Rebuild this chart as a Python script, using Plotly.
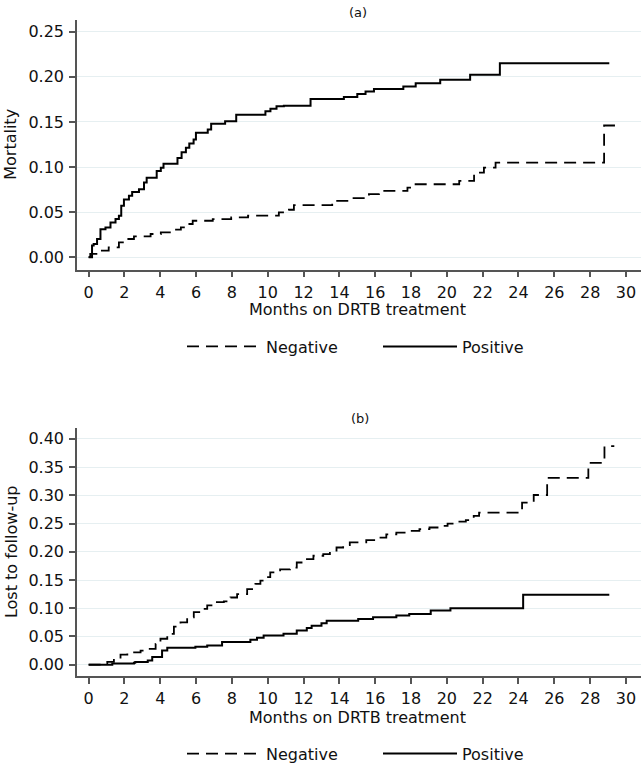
import plotly.graph_objects as go

# x axis ticks (months)
months = list(range(0, 31, 2))
mort_ticks = [0.00, 0.05, 0.10, 0.15, 0.20, 0.25]
ltfu_ticks = [0.00, 0.05, 0.10, 0.15, 0.20, 0.25, 0.30, 0.35, 0.40]

# (a) mortality, step curves: jump times and values
mort_neg_t = [0, 0.09, 0.56, 1.12, 1.69, 2.15, 2.53, 3.46, 4.03, 4.59, 5.15, 5.52, 5.81,
              6.93, 7.96, 8.9, 10.62, 11.18, 11.46, 13.6, 14.63, 15.65, 16.21, 17.8,
              18.17, 20.69, 21.52, 22.07, 22.72, 28.78, 29.4]
mort_neg_v = [0, 0.0037, 0.0074, 0.011, 0.0165, 0.0202, 0.0232, 0.0257, 0.0276, 0.0305,
              0.0331, 0.0368, 0.0404, 0.0423, 0.0441, 0.046, 0.0496, 0.0526, 0.0577, 0.0625,
              0.0654, 0.0699, 0.0735, 0.0772, 0.0809, 0.0846, 0.0938, 0.0993, 0.1048, 0.146,
              0.146]
mort_pos_t = [0, 0.19, 0.28, 0.47, 0.66, 0.94, 1.22, 1.5, 1.69, 1.82, 1.97, 2.25, 2.43,
              2.81, 3.09, 3.24, 3.8, 4.03, 4.18, 4.96, 5.19, 5.43, 5.62, 5.86, 5.99, 6.65,
              6.84, 7.62, 8.24, 9.87, 10.15, 10.49, 10.9, 12.39, 14.25, 15.0, 15.46, 15.93,
              17.57, 18.26, 19.63, 21.3, 22.96, 29.07]
mort_pos_v = [0, 0.0129, 0.0147, 0.0202, 0.031, 0.033, 0.0386, 0.0423, 0.046, 0.057, 0.064,
              0.068, 0.0724, 0.0754, 0.0827, 0.0882, 0.0956, 0.0993, 0.1037, 0.11, 0.1165,
              0.1213, 0.126, 0.1305, 0.1379, 0.1415, 0.148, 0.1507, 0.158, 0.1618, 0.1647,
              0.1673, 0.168, 0.1754, 0.1776, 0.1809, 0.1838, 0.1864, 0.1893, 0.193, 0.1967,
              0.2022, 0.2151, 0.2151]

# (b) lost to follow-up
ltfu_neg_t = [0, 0.67, 1.04, 1.41, 1.78, 2.16, 2.9, 3.36, 3.74, 4.01, 4.39, 4.76, 5.13,
              5.5, 5.87, 6.25, 6.62, 7.08, 7.55, 7.92, 8.29, 8.85, 9.31, 9.59, 9.77, 10.14,
              10.69, 11.25, 11.62, 12.08, 12.55, 13.1, 13.47, 13.84, 14.21, 14.58, 15.5,
              16.06, 16.62, 17.18, 17.9, 18.47, 19.03, 19.58, 20.04, 20.6, 21.06, 21.5, 21.8,
              24.2, 24.85, 25.6, 27.9, 28.8, 29.35]
ltfu_neg_v = [0, 0.002, 0.005, 0.0106, 0.018, 0.022, 0.025, 0.028, 0.037, 0.046, 0.0547,
              0.0676, 0.075, 0.084, 0.093, 0.099, 0.105, 0.111, 0.112, 0.119, 0.125, 0.134,
              0.143, 0.149, 0.155, 0.1635, 0.169, 0.172, 0.181, 0.187, 0.193, 0.196, 0.202,
              0.2076, 0.212, 0.2165, 0.2206, 0.225, 0.231, 0.234, 0.237, 0.24, 0.243, 0.246,
              0.25, 0.2535, 0.256, 0.2635, 0.2694, 0.287, 0.3006, 0.331, 0.3576, 0.387, 0.387]
ltfu_pos_t = [0, 1.32, 2.53, 2.6, 3.3, 3.55, 4.1, 4.39, 5.96, 6.62, 7.45, 9.03, 9.4, 9.77,
              10.88, 11.62, 12.18, 12.45, 13.0, 13.29, 15.05, 15.88, 17.18, 17.9, 19.1,
              20.2, 24.26, 29.07]
ltfu_pos_v = [0, 0.002, 0.0035, 0.0047, 0.0076, 0.0135, 0.025, 0.03, 0.032, 0.034, 0.04,
              0.044, 0.0476, 0.0518, 0.0547, 0.0606, 0.065, 0.069, 0.0735, 0.078, 0.081,
              0.084, 0.087, 0.09, 0.096, 0.1, 0.124, 0.124]

FONT = "DejaVu Sans, Arial, sans-serif"
W, H = 641, 771
ML, MR, MT, MB = 77, 0, 20, 92
PH = H - MT - MB


def py(px):
    # pixel row -> paper fraction
    return (H - MB - px) / PH


def px_x(px):
    return (px - ML) / (W - ML - MR)


fig = go.Figure()
neg_line = dict(color="black", width=1.8, dash="12px,7px", shape="hv")
pos_line = dict(color="black", width=2, shape="hv")

fig.add_trace(go.Scatter(x=mort_neg_t, y=mort_neg_v, mode="lines", name="Negative",
                         line=neg_line, xaxis="x", yaxis="y", legend="legend"))
fig.add_trace(go.Scatter(x=mort_pos_t, y=mort_pos_v, mode="lines", name="Positive",
                         line=pos_line, xaxis="x", yaxis="y", legend="legend"))
fig.add_trace(go.Scatter(x=ltfu_neg_t, y=ltfu_neg_v, mode="lines", name="Negative",
                         line=neg_line, xaxis="x2", yaxis="y2", legend="legend2"))
fig.add_trace(go.Scatter(x=ltfu_pos_t, y=ltfu_pos_v, mode="lines", name="Positive",
                         line=pos_line, xaxis="x2", yaxis="y2", legend="legend2"))

axis_common = dict(showline=True, linecolor="#555555", linewidth=1.5, ticks="outside",
                   ticklen=6, tickwidth=1.5, tickcolor="#555555", zeroline=False,
                   tickfont=dict(family=FONT, size=16, color="#111111"))
xcommon = dict(axis_common, range=[-0.65, 30.84], tickvals=months, showgrid=False,
               ticklabelstandoff=1)
ycommon = dict(axis_common, showgrid=True, gridcolor="#e6eff1", gridwidth=1.2,
               tickformat=".2f", ticklabelstandoff=2)

top_a, bot_a = 20, 270.7
top_b, bot_b = 430, 679

legend_style = dict(orientation="h", x=px_x(182), xanchor="left", yanchor="middle",
                    font=dict(family=FONT, size=16, color="#111111"), itemwidth=74,
                    entrywidth=107, entrywidthmode="pixels", bgcolor="rgba(0,0,0,0)")

fig.update_layout(
    width=W, height=H,
    margin=dict(l=ML, r=MR, t=MT, b=MB),
    paper_bgcolor="white", plot_bgcolor="white",
    font=dict(family=FONT, size=16, color="#111111"),
    xaxis=dict(xcommon, domain=[0, 1], anchor="y"),
    yaxis=dict(ycommon, domain=[py(bot_a), py(top_a)], range=[-0.0137, 0.263],
               tickvals=mort_ticks, anchor="x"),
    xaxis2=dict(xcommon, domain=[0, 1], anchor="y2"),
    yaxis2=dict(ycommon, domain=[py(bot_b), py(top_b)], range=[-0.02, 0.419],
                tickvals=ltfu_ticks, anchor="x2"),
    legend=dict(legend_style, y=py(348)),
    legend2=dict(legend_style, y=py(757)),
    showlegend=True,
)

ann = [
    ("(a)", px_x(358), py(12), 13, 0),
    ("(b)", px_x(360), py(420), 13, 0),
    ("Months on DRTB treatment", px_x(357), py(311), 16, 0),
    ("Months on DRTB treatment", px_x(357), py(721), 16, 0),
    ("Mortality", px_x(11), py((top_a + bot_a) / 2), 16, -90),
    ("Lost to follow-up", px_x(11), py((top_b + bot_b) / 2), 16, -90),
]
for text, x, y, size, angle in ann:
    fig.add_annotation(text=text, x=x, y=y, xref="paper", yref="paper", showarrow=False,
                       xanchor="center", yanchor="middle", textangle=angle,
                       font=dict(family=FONT, size=size, color="#111111"))

# drop the default page margin so the figure sits at the window's corner
fig.write_html("out.html", config={"displayModeBar": False},
               post_script="document.body.style.margin='0';")
